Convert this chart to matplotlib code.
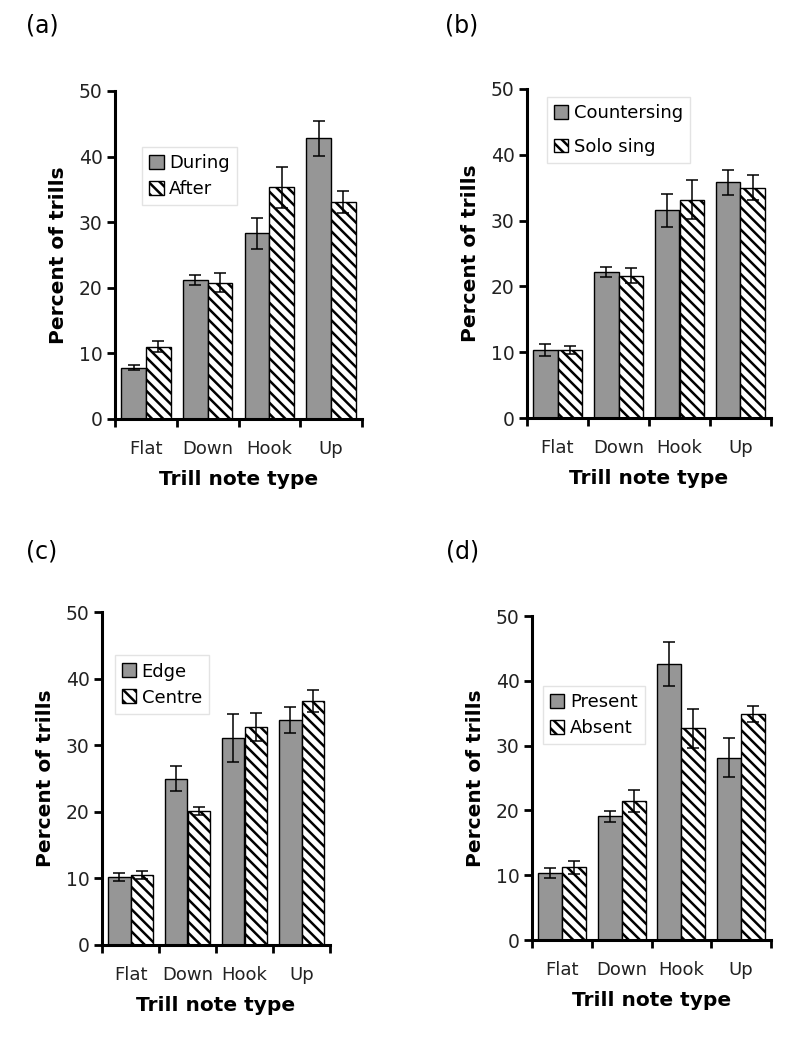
import matplotlib
matplotlib.use("Agg")
import matplotlib.pyplot as plt
import numpy as np

plt.rcParams['font.family'] = 'DejaVu Sans'
plt.rcParams['hatch.linewidth'] = 1.8

categories = ["Flat", "Down", "Hook", "Up"]

# panel (a)
a_labels = ["During", "After"]
a_first = [7.8, 21.2, 28.3, 42.8]
a_first_err = [0.4, 0.75, 2.4, 2.7]
a_second = [11.0, 20.8, 35.3, 33.1]
a_second_err = [0.85, 1.5, 3.1, 1.65]

# panel (b)
b_labels = ["Countersing", "Solo sing"]
b_first = [10.3, 22.2, 31.6, 35.8]
b_first_err = [0.9, 0.75, 2.5, 1.9]
b_second = [10.3, 21.6, 33.2, 35.0]
b_second_err = [0.6, 1.15, 2.9, 1.9]

# panel (c)
c_labels = ["Edge", "Centre"]
c_first = [10.15, 25.0, 31.15, 33.75]
c_first_err = [0.6, 1.95, 3.6, 1.95]
c_second = [10.5, 20.15, 32.75, 36.7]
c_second_err = [0.65, 0.6, 2.1, 1.65]

# panel (d)
d_labels = ["Present", "Absent"]
d_first = [10.3, 19.1, 42.6, 28.1]
d_first_err = [0.75, 0.85, 3.4, 3.0]
d_second = [11.2, 21.4, 32.7, 34.9]
d_second_err = [0.95, 1.7, 3.0, 1.2]

W, H = 800, 1037
fig = plt.figure(figsize=(W / 100, H / 100), dpi=100)


def px_axes(left, top, right, bottom):
    return fig.add_axes([left / W, 1 - bottom / H, (right - left) / W, (bottom - top) / H])


panels = [
    ("(a)", (115, 91, 362, 419), (26, 25), a_labels, a_first, a_first_err, a_second, a_second_err, (0.11, 0.83), 0.45),
    ("(b)", (527, 89, 771, 418), (445, 25), b_labels, b_first, b_first_err, b_second, b_second_err, (0.08, 0.975), 0.85),
    ("(c)", (102, 612, 330, 945), (26, 552), c_labels, c_first, c_first_err, c_second, c_second_err, (0.055, 0.87), 0.45),
    ("(d)", (532, 616, 771, 940), (446, 552), d_labels, d_first, d_first_err, d_second, d_second_err, (0.045, 0.785), 0.45),
]

x = np.arange(len(categories))
w = 0.4
for tag, box, tagpos, labels, v1, e1, v2, e2, legpos, lspace in panels:
    ax = px_axes(*box)
    ax.bar(x - w / 2, v1, w, color="#969696", edgecolor="black", linewidth=1, label=labels[0])
    ax.bar(x + w / 2, v2, w, color="white", edgecolor="black", linewidth=1, hatch="\\\\\\", label=labels[1])
    ax.errorbar(x - w / 2, v1, yerr=e1, fmt="none", ecolor="black", elinewidth=1.1, capsize=4, capthick=1.1)
    ax.errorbar(x + w / 2, v2, yerr=e2, fmt="none", ecolor="black", elinewidth=1.1, capsize=4, capthick=1.1)

    ax.set_xlim(-0.5, 3.5)
    ax.set_ylim(0, 50)
    ax.set_yticks([0, 10, 20, 30, 40, 50])
    ax.set_xticks(np.arange(-0.5, 4, 1))
    ax.set_xticklabels([])
    ax.set_xticks(x, minor=True)
    ax.set_xticklabels(categories, minor=True)
    ax.tick_params(axis="x", which="minor", length=0, pad=15, labelsize=13, colors="#222222")
    ax.tick_params(axis="x", which="major", length=6, width=2, direction="out")
    ax.tick_params(axis="y", length=6, width=2, direction="out", labelsize=13.5, pad=3)
    for lbl in ax.get_yticklabels():
        lbl.set_color("#222222")
    for s in ["top", "right"]:
        ax.spines[s].set_visible(False)
    for s in ["left", "bottom"]:
        ax.spines[s].set_linewidth(2.2)

    ax.set_ylabel("Percent of trills", fontsize=14.5, fontweight="bold", labelpad=8)
    ax.set_xlabel("Trill note type", fontsize=14.5, fontweight="bold", labelpad=8.5)

    leg = ax.legend(loc="upper left", bbox_to_anchor=legpos, fontsize=13, frameon=True,
                    fancybox=False, handlelength=0.8, handleheight=0.8, handletextpad=0.3,
                    labelspacing=lspace, borderpad=0.4, borderaxespad=0)
    leg.get_frame().set_edgecolor("#dddddd")
    leg.get_frame().set_linewidth(1)

    fig.text(tagpos[0] / W, 1 - tagpos[1] / H, tag, fontsize=17, va="center", ha="left")

fig.savefig("out.png", dpi=100)
